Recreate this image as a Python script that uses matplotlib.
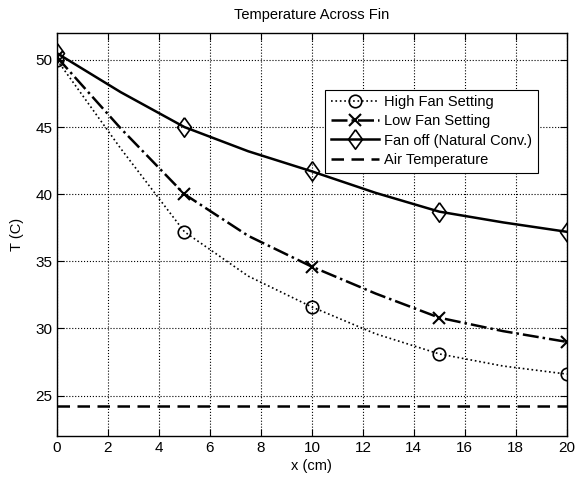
import matplotlib
matplotlib.use("Agg")
import matplotlib.pyplot as plt

plt.rcParams["font.family"] = ["Liberation Sans", "DejaVu Sans"]
plt.rcParams["font.size"] = 10.5

x = [0, 2.5, 5, 7.5, 10, 12.5, 15, 17.5, 20]
high_fan = [50.0, 43.4, 37.2, 33.9, 31.6, 29.6, 28.1, 27.2, 26.6]
low_fan = [50.2, 44.9, 40.0, 36.9, 34.6, 32.6, 30.8, 29.8, 29.0]
fan_off = [50.5, 47.6, 45.0, 43.2, 41.7, 40.1, 38.7, 37.9, 37.2]
air_temp = 24.25

xticks = list(range(0, 21, 2))
yticks = [25, 30, 35, 40, 45, 50]

# matlab-ish diamond, a bit taller than wide
diamond = [(0, 1), (0.72, 0), (0, -1), (-0.72, 0), (0, 1)]

fig = plt.figure(figsize=(5.76, 4.8), dpi=100)
ax = fig.add_axes([0.099, 0.092, 0.885, 0.839])

ax.plot(x, high_fan, color="k", ls=":", lw=1.2, marker="o", markevery=2,
        ms=9, mfc="none", mec="k", mew=1.2, label="High Fan Setting")
ax.plot(x, low_fan, color="k", ls="-.", lw=1.8, marker="x", markevery=2,
        ms=8, mec="k", mew=1.5, label="Low Fan Setting")
ax.plot(x, fan_off, color="k", ls="-", lw=1.8, marker=diamond, markevery=2,
        ms=14, mfc="none", mec="k", mew=1.2, label="Fan off (Natural Conv.)")
ax.plot([x[0], x[-1]], [air_temp, air_temp], color="k", ls="--", lw=1.8,
        dashes=(5, 3), label="Air Temperature")

ax.set_xlim(0, 20)
ax.set_ylim(22, 52)
ax.set_xticks(xticks)
ax.set_yticks(yticks)
ax.grid(True, color="k", ls=":", lw=0.8)
ax.tick_params(direction="in", top=True, right=True, length=5, labelsize=11)
for s in ax.spines.values():
    s.set_linewidth(1.0)

ax.set_title("Temperature Across Fin", fontsize=10.5, pad=10)
ax.set_xlabel("x (cm)", labelpad=3)
ax.set_ylabel("T (C)", labelpad=8)

leg = ax.legend(loc="upper right", bbox_to_anchor=(0.957, 0.878), fancybox=False,
                edgecolor="k", framealpha=1, handlelength=3.3, borderpad=0.4,
                labelspacing=0.35, handletextpad=0.3, fontsize=10.5)
leg.get_frame().set_linewidth(0.8)

fig.savefig("out.png", dpi=100)
